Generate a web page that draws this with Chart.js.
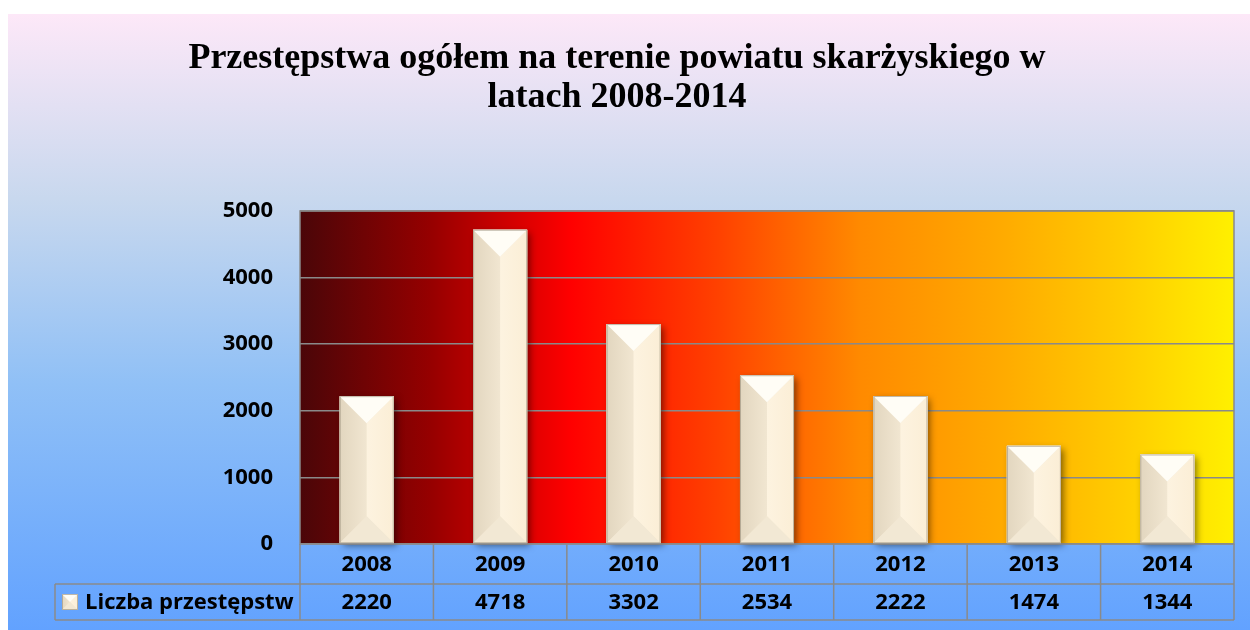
<!DOCTYPE html>
<html>
<head>
<meta charset="utf-8">
<script src="https://cdn.jsdelivr.net/npm/chart.js@4"></script>
<style>
  html, body { margin: 0; padding: 0; background: #fff; }
  #wrap { width: 1250px; height: 630px; }
</style>
</head>
<body>
<div id="wrap"><canvas id="chart" width="1250" height="630"></canvas></div>
<script>
const years = ['2008', '2009', '2010', '2011', '2012', '2013', '2014'];
const crimes = [2220, 4718, 3302, 2534, 2222, 1474, 1344];
const yTicks = [0, 1000, 2000, 3000, 4000, 5000];
const seriesName = 'Liczba przestępstw';
const titleLines = ['Przestępstwa ogółem na terenie powiatu skarżyskiego w', 'latach 2008-2014'];

const sansFamily = '"Open Sans", "Liberation Sans", sans-serif';
const labelFont = 'bold 22px ' + sansFamily;

// beveled "pyramid" face on a rectangle
function bevel(ctx, L, T, R, B) {
  const w = R - L, cx = (L + R) / 2;
  const d = Math.min(w / 2, (B - T) / 2);
  ctx.fillStyle = '#f4e8d2';
  ctx.fillRect(L, T, w, B - T);
  // left facet
  let g = ctx.createLinearGradient(L, 0, cx, 0);
  g.addColorStop(0, '#e2d6bf');
  g.addColorStop(1, '#f1e6d1');
  ctx.fillStyle = g;
  ctx.beginPath();
  ctx.moveTo(L, T); ctx.lineTo(cx, T + d); ctx.lineTo(cx, B - d); ctx.lineTo(L, B); ctx.closePath();
  ctx.fill();
  // right facet
  g = ctx.createLinearGradient(cx, 0, R, 0);
  g.addColorStop(0, '#fdf3e0');
  g.addColorStop(1, '#fbeed6');
  ctx.fillStyle = g;
  ctx.beginPath();
  ctx.moveTo(R, T); ctx.lineTo(cx, T + d); ctx.lineTo(cx, B - d); ctx.lineTo(R, B); ctx.closePath();
  ctx.fill();
  // top facet
  ctx.fillStyle = '#fffdf6';
  ctx.beginPath();
  ctx.moveTo(L, T); ctx.lineTo(R, T); ctx.lineTo(cx, T + d); ctx.closePath();
  ctx.fill();
  // bottom facet
  ctx.fillStyle = '#f2e8d4';
  ctx.beginPath();
  ctx.moveTo(L, B); ctx.lineTo(R, B); ctx.lineTo(cx, B - d); ctx.closePath();
  ctx.fill();
  ctx.strokeStyle = 'rgba(150,140,120,0.6)';
  ctx.lineWidth = 1;
  ctx.strokeRect(L + 0.5, T + 0.5, w - 1, B - T - 1);
}

const backgrounds = {
  id: 'backgrounds',
  beforeDraw(chart) {
    const ctx = chart.ctx, a = chart.chartArea;
    ctx.save();
    ctx.fillStyle = '#fff';
    ctx.fillRect(0, 0, chart.width, chart.height);
    let g = ctx.createLinearGradient(0, 14, 0, chart.height);
    g.addColorStop(0, '#fde8f8');
    g.addColorStop(0.3, '#c8d8ee');
    g.addColorStop(0.6, '#90c0f6');
    g.addColorStop(1, '#62a2ff');
    ctx.fillStyle = g;
    ctx.fillRect(8, 14, chart.width - 8, chart.height - 14);
    g = ctx.createLinearGradient(a.left, 0, a.right, 0);
    g.addColorStop(0, '#4a0608');
    g.addColorStop(0.14, '#960000');
    g.addColorStop(0.29, '#ff0000');
    g.addColorStop(0.45, '#ff4200');
    g.addColorStop(0.6, '#ff8a00');
    g.addColorStop(0.75, '#ffaa00');
    g.addColorStop(0.88, '#ffcc00');
    g.addColorStop(1, '#fff000');
    ctx.fillStyle = g;
    ctx.fillRect(a.left, a.top, a.right - a.left, a.bottom - a.top);
    ctx.restore();
  }
};

const bevelBars = {
  id: 'bevelBars',
  beforeDatasetsDraw(chart) {
    const ctx = chart.ctx;
    ctx.save();
    ctx.shadowColor = 'rgba(0,0,0,0.5)';
    ctx.shadowBlur = 7;
    ctx.shadowOffsetX = 3;
    ctx.shadowOffsetY = 3;
    ctx.fillStyle = '#f4e8d2';
    chart.getDatasetMeta(0).data.forEach(bar => {
      const p = bar.getProps(['x', 'y', 'base', 'width'], true);
      ctx.fillRect(p.x - p.width / 2, p.y, p.width, p.base - p.y);
    });
    ctx.restore();
  },
  afterDatasetsDraw(chart) {
    const ctx = chart.ctx;
    ctx.save();
    chart.getDatasetMeta(0).data.forEach(bar => {
      const p = bar.getProps(['x', 'y', 'base', 'width'], true);
      bevel(ctx, p.x - p.width / 2, p.y, p.x + p.width / 2, p.base);
    });
    ctx.restore();
  }
};

const dataTable = {
  id: 'dataTable',
  afterDraw(chart) {
    const ctx = chart.ctx, a = chart.chartArea, xs = chart.scales.x;
    const rowTop = a.bottom + 40, rowBottom = a.bottom + 76, tableLeft = 55;
    ctx.save();
    ctx.strokeStyle = '#8a8a8a';
    ctx.lineWidth = 1.5;
    // plot border
    ctx.strokeRect(a.left, a.top, a.right - a.left, a.bottom - a.top);
    ctx.beginPath();
    ctx.moveTo(tableLeft, rowTop); ctx.lineTo(a.right, rowTop);
    ctx.moveTo(tableLeft, rowBottom); ctx.lineTo(a.right, rowBottom);
    ctx.moveTo(tableLeft, rowTop); ctx.lineTo(tableLeft, rowBottom);
    const step = (a.right - a.left) / years.length;
    for (let i = 0; i <= years.length; i++) {
      const x = a.left + i * step;
      ctx.moveTo(x, a.bottom); ctx.lineTo(x, rowBottom);
    }
    ctx.stroke();
    const midY = (rowTop + rowBottom) / 2;
    // legend key
    bevel(ctx, 62, midY - 8, 78, midY + 8);
    // values
    ctx.fillStyle = '#000';
    ctx.font = labelFont;
    ctx.textAlign = 'center';
    ctx.textBaseline = 'middle';
    crimes.forEach((v, i) => ctx.fillText(String(v), xs.getPixelForValue(i), midY + 1));
    ctx.textAlign = 'left';
    ctx.fillText(seriesName, 85, midY + 1);
    ctx.restore();
  }
};

new Chart(document.getElementById('chart'), {
  type: 'bar',
  data: {
    labels: years,
    datasets: [{
      label: seriesName,
      data: crimes,
      backgroundColor: '#f4e8d2',
      barPercentage: 0.405,
      categoryPercentage: 1
    }]
  },
  options: {
    responsive: false,
    animation: false,
    layout: { padding: { left: 0, right: 16, top: 0, bottom: 0 } },
    plugins: {
      legend: { display: false },
      tooltip: { enabled: false },
      title: {
        display: true,
        text: titleLines,
        color: '#000',
        font: { family: '"Liberation Serif", "Times New Roman", serif', size: 36, weight: 'bold', lineHeight: 1.083 },
        padding: { top: 39.5, bottom: 93.5 }
      }
    },
    scales: {
      x: {
        grid: { display: false },
        border: { display: false },
        ticks: { color: '#000', font: { family: sansFamily, size: 22, weight: 'bold' }, padding: 0 },
        afterFit(s) { s.height = 86; }
      },
      y: {
        min: 0,
        max: 5000,
        afterBuildTicks(s) { s.ticks = yTicks.map(v => ({ value: v })); },
        grid: { color: '#8a8a8a', lineWidth: 1.5, drawTicks: false },
        border: { display: false },
        ticks: {
          color: '#000',
          font: { family: sansFamily, size: 22, weight: 'bold' },
          padding: 27,
          callback: v => String(v)
        },
        afterFit(s) { s.width = 300; }
      }
    }
  },
  plugins: [backgrounds, bevelBars, dataTable]
});
</script>
</body>
</html>
